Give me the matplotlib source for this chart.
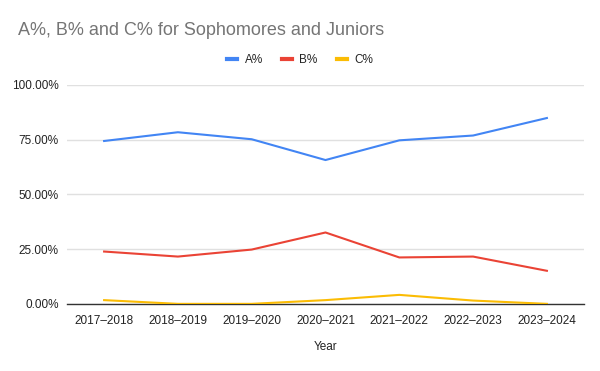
import matplotlib
matplotlib.use("Agg")
import matplotlib.pyplot as plt
from matplotlib.ticker import PercentFormatter
from matplotlib.lines import Line2D

years = ["2017–2018", "2018–2019", "2019–2020", "2020–2021",
         "2021–2022", "2022–2023", "2023–2024"]
a_pct = [74.4, 78.4, 75.2, 65.7, 74.7, 76.9, 84.9]
b_pct = [23.9, 21.6, 24.8, 32.6, 21.2, 21.6, 15.1]
c_pct = [1.7, 0.0, 0.0, 1.7, 4.1, 1.5, 0.0]

series = [("A%", a_pct, "#4285F4"), ("B%", b_pct, "#EA4335"), ("C%", c_pct, "#FBBC04")]

plt.rcParams['font.family'] = ['Liberation Sans', 'DejaVu Sans']

fig = plt.figure(figsize=(6, 3.71), dpi=100)
ax = fig.add_axes([0.112, 0.181, 0.861, 0.590])

x = list(range(len(years)))
for name, vals, col in series:
    ax.plot(x, vals, color=col, lw=1.5, label=name, zorder=3)

ax.set_xlim(-0.5, len(years) - 0.5)
ax.set_ylim(0, 100)
ax.set_yticks([0, 25, 50, 75, 100])
ax.yaxis.set_major_formatter(PercentFormatter(decimals=2))
ax.set_xticks(x)
ax.set_xticklabels(years)
ax.grid(axis='y', color='#E0E0E0', lw=1)
ax.set_axisbelow(True)
for s in ['top', 'right', 'left']:
    ax.spines[s].set_visible(False)
ax.spines['bottom'].set_color('#333333')
ax.spines['bottom'].set_linewidth(1)
ax.spines['bottom'].set_zorder(2)
ax.tick_params(length=0, labelsize=8.5, labelcolor='#222222')
ax.tick_params(axis='y', pad=6)
ax.tick_params(axis='x', pad=8)
ax.set_xlabel("Year", fontsize=8.5, color='#222222', labelpad=10)

fig.text(0.030, 0.918, "A%, B% and C% for Sophomores and Juniors",
         fontsize=13, color='#757575', va='center', ha='left')

handles = [Line2D([0], [0], color=c, lw=3) for _, _, c in series]
fig.legend(handles, [n for n, _, _ in series], loc='center', bbox_to_anchor=(0.5, 0.838),
           ncol=3, frameon=False, fontsize=8.5, handlelength=0.9, handletextpad=0.6,
           columnspacing=1.6, labelcolor='#222222')

fig.savefig("out.png", dpi=100, facecolor='white')
